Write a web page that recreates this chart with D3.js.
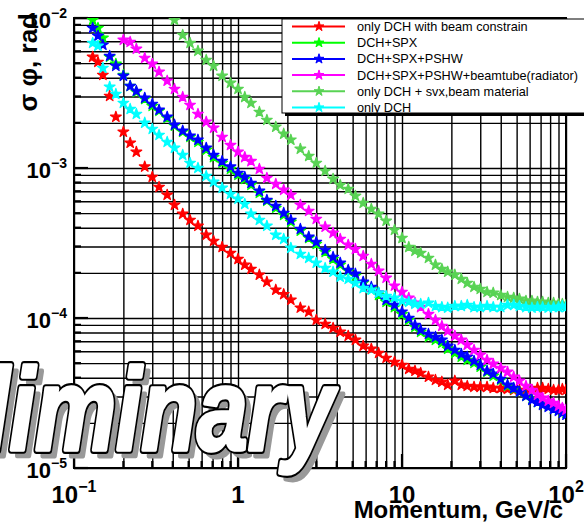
<!DOCTYPE html>
<html>
<head>
<meta charset="utf-8">
<script src="https://cdn.jsdelivr.net/npm/d3@7"></script>
<style>
  body { margin: 0; background: #fff; }
  svg { display: block; font-family: "Liberation Sans", Arial, sans-serif; }
</style>
</head>
<body>
<div id="chart"></div>
<script>
// momentum points (GeV/c), shared by all series
var momentum = [0.13,0.14,0.15,0.165,0.18,0.2,0.22,0.24,0.27,0.3,
  0.33,0.37,0.41,0.46,0.51,0.57,0.64,0.71,0.8,0.9,
  1.0,1.1,1.2,1.35,1.5,1.7,1.9,2.1,2.4,2.7,
  3.0,3.4,3.8,4.2,4.7,5.2,5.8,6.5,7.2,8,
  9,10,11,12,13,14.5,16,17.5,19,21,
  23,25,27.5,30,33,36,40,44,48,52,
  57,62,67,72,78,84,90,95,100];

// sigma phi (rad) for each configuration
var sigDchBeam = [5.5e-3,5.09e-3,4.17e-3,3.02e-3,2.19e-3,1.74e-3,1.47e-3,1.28e-3,1.02e-3,8.71e-4,
  7.47e-4,6.61e-4,5.67e-4,4.94e-4,4.50e-4,4.11e-4,3.58e-4,3.26e-4,2.97e-4,2.71e-4,
  2.47e-4,2.26e-4,2.12e-4,1.94e-4,1.74e-4,1.54e-4,1.44e-4,1.32e-4,1.17e-4,1.10e-4,
  9.70e-5,9.12e-5,8.58e-5,8.07e-5,7.59e-5,7.14e-5,6.51e-5,6.22e-5,5.84e-5,5.41e-5,
  5.09e-5,4.86e-5,4.57e-5,4.44e-5,4.30e-5,4.05e-5,3.86e-5,3.75e-5,3.58e-5,3.81e-5,
  3.58e-5,3.52e-5,3.47e-5,3.47e-5,3.47e-5,3.41e-5,3.41e-5,3.36e-5,3.31e-5,3.31e-5,
  3.26e-5,3.31e-5,3.41e-5,3.41e-5,3.36e-5,3.31e-5,3.31e-5,3.36e-5,3.31e-5];

var sigDchSpx = [9.70e-3,8.58e-3,7.36e-3,5.50e-3,4.94e-3,4.17e-3,3.52e-3,3.21e-3,2.88e-3,2.59e-3,
  2.40e-3,2.15e-3,1.91e-3,1.74e-3,1.61e-3,1.49e-3,1.32e-3,1.18e-3,1.08e-3,9.85e-4,
  8.98e-4,8.45e-4,7.70e-4,6.81e-4,6.03e-4,5.41e-4,4.86e-4,4.37e-4,3.81e-4,3.41e-4,
  3.11e-4,2.75e-4,2.47e-4,2.26e-4,2.06e-4,1.91e-4,1.71e-4,1.56e-4,1.42e-4,1.28e-4,
  1.18e-4,1.06e-4,9.70e-5,8.71e-5,8.07e-5,7.47e-5,7.14e-5,6.81e-5,6.22e-5,5.84e-5,
  5.50e-5,5.25e-5,5.01e-5,4.72e-5,4.37e-5,4.11e-5,3.86e-5,3.52e-5,3.36e-5,3.21e-5,
  3.02e-5,2.88e-5,2.75e-5,2.67e-5,2.59e-5,2.51e-5,2.44e-5,2.36e-5,2.33e-5];

var sigDchSpxPshw = [8.58e-3,7.59e-3,6.61e-3,5.58e-3,4.79e-3,4.11e-3,3.52e-3,3.26e-3,2.93e-3,2.67e-3,
  2.44e-3,2.19e-3,1.94e-3,1.77e-3,1.64e-3,1.54e-3,1.36e-3,1.22e-3,1.11e-3,1.02e-3,
  9.26e-4,8.71e-4,7.94e-4,7.03e-4,6.12e-4,5.58e-4,5.01e-4,4.50e-4,3.92e-4,3.47e-4,
  3.21e-4,2.84e-4,2.55e-4,2.33e-4,2.09e-4,1.97e-4,1.74e-4,1.61e-4,1.47e-4,1.32e-4,
  1.22e-4,1.10e-4,1.00e-4,8.98e-5,8.32e-5,7.82e-5,7.47e-5,7.14e-5,6.51e-5,6.12e-5,
  5.75e-5,5.50e-5,5.17e-5,4.86e-5,4.44e-5,4.24e-5,3.92e-5,3.58e-5,3.41e-5,3.21e-5,
  3.02e-5,2.84e-5,2.75e-5,2.63e-5,2.55e-5,2.47e-5,2.40e-5,2.33e-5,2.26e-5];

var sigBeamtube = [null,null,null,null,null,7.14e-3,6.92e-3,6.22e-3,5.41e-3,4.94e-3,
  4.37e-3,3.81e-3,3.36e-3,2.97e-3,2.63e-3,2.29e-3,2.03e-3,1.85e-3,1.61e-3,1.42e-3,
  1.28e-3,1.18e-3,1.11e-3,9.85e-4,8.58e-4,7.82e-4,7.14e-4,6.61e-4,5.67e-4,5.17e-4,
  4.57e-4,4.05e-4,3.69e-4,3.36e-4,3.07e-4,2.88e-4,2.59e-4,2.29e-4,2.06e-4,1.85e-4,
  1.64e-4,1.49e-4,1.36e-4,1.26e-4,1.18e-4,1.06e-4,9.70e-5,8.84e-5,8.19e-5,7.59e-5,
  7.14e-5,6.61e-5,6.12e-5,5.67e-5,5.25e-5,4.94e-5,4.64e-5,4.37e-5,4.05e-5,3.81e-5,
  3.52e-5,3.31e-5,3.07e-5,2.93e-5,2.80e-5,2.71e-5,2.59e-5,2.51e-5,2.44e-5];

var sigSvx = [null,null,null,null,null,null,null,null,null,null,
  null,null,9.70e-3,7.70e-3,6.81e-3,6.03e-3,5.25e-3,4.79e-3,4.11e-3,3.69e-3,
  3.36e-3,2.97e-3,2.71e-3,2.36e-3,2.09e-3,1.88e-3,1.69e-3,1.54e-3,1.34e-3,1.20e-3,
  1.08e-3,9.55e-4,8.45e-4,7.70e-4,7.24e-4,6.51e-4,5.84e-4,5.33e-4,4.94e-4,4.44e-4,
  3.86e-4,3.41e-4,2.97e-4,2.80e-4,2.71e-4,2.51e-4,2.26e-4,2.12e-4,2.03e-4,1.94e-4,
  1.82e-4,1.71e-4,1.61e-4,1.56e-4,1.49e-4,1.47e-4,1.42e-4,1.38e-4,1.36e-4,1.34e-4,
  1.30e-4,1.30e-4,1.28e-4,1.28e-4,1.26e-4,1.26e-4,1.24e-4,1.24e-4,1.22e-4];

var sigDch = [6.81e-3,6.51e-3,4.64e-3,3.47e-3,3.11e-3,2.71e-3,2.47e-3,2.29e-3,2.00e-3,1.82e-3,
  1.66e-3,1.49e-3,1.36e-3,1.22e-3,1.08e-3,1.00e-3,8.84e-4,8.07e-4,7.36e-4,6.71e-4,
  6.22e-4,5.75e-4,4.94e-4,4.50e-4,4.11e-4,3.58e-4,3.36e-4,2.93e-4,2.67e-4,2.51e-4,
  2.33e-4,2.15e-4,2.03e-4,1.88e-4,1.82e-4,1.71e-4,1.58e-4,1.54e-4,1.47e-4,1.40e-4,
  1.36e-4,1.30e-4,1.28e-4,1.24e-4,1.24e-4,1.26e-4,1.20e-4,1.18e-4,1.17e-4,1.20e-4,
  1.20e-4,1.22e-4,1.18e-4,1.18e-4,1.20e-4,1.18e-4,1.18e-4,1.22e-4,1.22e-4,1.20e-4,
  1.18e-4,1.17e-4,1.18e-4,1.18e-4,1.17e-4,1.18e-4,1.18e-4,1.20e-4,1.18e-4];

var seriesNames = ["only DCH with beam constrain", "DCH+SPX", "DCH+SPX+PSHW",
  "DCH+SPX+PSHW+beamtube(radiator)", "only DCH + svx,beam material", "only DCH"];
var seriesValues = [sigDchBeam, sigDchSpx, sigDchSpxPshw, sigBeamtube, sigSvx, sigDch];
var seriesColors = ["#ff0000", "#00ff00", "#0000ff", "#ff00ff", "#59d354", "#00ffff"];

var xMajor = [0.1, 1, 10, 100];
var xMajorExp = ["\u22121", "", "", "2"];
var yMajor = [1e-5, 1e-4, 1e-3, 1e-2];
var yMajorExp = ["\u22125", "\u22124", "\u22123", "\u22122"];

var W = 584, H = 527;
var margin = {top: 18, right: 18, bottom: 59, left: 74};
var width = W - margin.left - margin.right,
    height = H - margin.top - margin.bottom;

var svg = d3.select("#chart").append("svg")
    .attr("width", W)
    .attr("height", H);

var x = d3.scaleLog().domain([0.1, 100]).range([0, width]);
var y = d3.scaleLog().domain([1e-5, 1e-2]).range([height, 0]);

var g = svg.append("g")
    .attr("transform", `translate(${margin.left},${margin.top})`);

g.append("clipPath").attr("id", "plotclip")
  .append("rect").attr("width", width).attr("height", height);

// grid
g.append("g")
    .attr("transform", `translate(0,${height})`)
    .call(d3.axisBottom(x).tickSize(-height).tickFormat(""))
    .call(a => a.select(".domain").remove())
    .selectAll("line").attr("stroke", "#000").attr("stroke-width", 1.4);

g.append("g")
    .call(d3.axisLeft(y).tickSize(-width).tickFormat(""))
    .call(a => a.select(".domain").remove())
    .selectAll("line").attr("stroke", "#000").attr("stroke-width", 1.4);

// inward ticks on left and bottom
function isMajor(v) { return Math.abs(Math.log10(v) - Math.round(Math.log10(v))) < 1e-6; }

g.append("g").selectAll("line")
  .data(y.ticks())
  .join("line")
    .attr("x1", 0).attr("x2", d => isMajor(d) ? 14 : 7)
    .attr("y1", d => y(d)).attr("y2", d => y(d))
    .attr("stroke", "#000").attr("stroke-width", 2.2);

g.append("g").selectAll("line")
  .data(x.ticks())
  .join("line")
    .attr("y1", height).attr("y2", d => height - (isMajor(d) ? 14 : 7))
    .attr("x1", d => x(d)).attr("x2", d => x(d))
    .attr("stroke", "#000").attr("stroke-width", 2.2);

// frame
g.append("rect")
    .attr("width", width).attr("height", height)
    .attr("fill", "none").attr("stroke", "#000").attr("stroke-width", 2);

// data markers
var star = d3.symbol().type(d3.symbolStar).size(36);
var marks = g.append("g").attr("clip-path", "url(#plotclip)");
seriesValues.forEach(function(vals, i) {
  var pts = momentum.map((p, j) => [p, vals[j]]).filter(d => d[1] != null);
  marks.append("g").selectAll("path")
    .data(pts)
    .join("path")
      .attr("d", star)
      .attr("transform", d => `translate(${x(d[0])},${y(d[1])})`)
      .attr("fill", seriesColors[i])
      .attr("stroke", seriesColors[i])
      .attr("stroke-width", 1.2)
      .attr("stroke-linejoin", "round");
});

// y tick labels
yMajor.forEach(function(v, i) {
  var t = svg.append("text")
      .attr("x", margin.left - 7)
      .attr("y", margin.top + y(v) + 10)
      .attr("text-anchor", "end")
      .attr("font-weight", "bold")
      .attr("font-size", 22);
  t.append("tspan").text("10");
  t.append("tspan").attr("font-size", 14).attr("dy", -10).text(yMajorExp[i]);
});

// x tick labels
xMajor.forEach(function(v, i) {
  var t = svg.append("text")
      .attr("x", margin.left + x(v))
      .attr("y", 503)
      .attr("text-anchor", "middle")
      .attr("font-weight", "bold")
      .attr("font-size", 24);
  if (v === 1) { t.text("1"); return; }
  t.append("tspan").text("10");
  if (xMajorExp[i]) {
    t.append("tspan").attr("font-size", 16).attr("dy", -11).text(xMajorExp[i]);
  }
});

// axis titles
svg.append("text")
    .attr("x", 563).attr("y", 518)
    .attr("text-anchor", "end")
    .attr("font-weight", "bold")
    .attr("font-size", 24)
    .text("Momentum, GeV/c");

svg.append("text")
    .attr("transform", "translate(37,13) rotate(-90)")
    .attr("text-anchor", "end")
    .attr("font-weight", "bold")
    .attr("font-size", 26)
    .text("\u03c3 \u03c6, rad");

// legend
var leg = svg.append("g").attr("transform", "translate(282,19)");
leg.append("rect").attr("x", 3).attr("y", 3).attr("width", 330).attr("height", 94).attr("fill", "#000");
leg.append("rect").attr("width", 330).attr("height", 94)
    .attr("fill", "#fff").attr("stroke", "#000").attr("stroke-width", 1);
seriesNames.forEach(function(name, i) {
  var ly = 7.5 + i * 16.2;
  leg.append("line")
      .attr("x1", 10).attr("x2", 63).attr("y1", ly).attr("y2", ly)
      .attr("stroke", seriesColors[i]).attr("stroke-width", 2);
  leg.append("path")
      .attr("d", d3.symbol().type(d3.symbolStar).size(30))
      .attr("transform", `translate(37,${ly})`)
      .attr("fill", seriesColors[i])
      .attr("stroke", seriesColors[i]);
  leg.append("text")
      .attr("x", 75).attr("y", ly + 4.5)
      .attr("font-size", 12.7)
      .text(name);
});

// watermark: grey shadow, black outline, white body
var wm = svg.append("g").attr("transform", "translate(334,450) scale(0.95,1.22)");
function wmText(dx, dy, fill, stroke, sw) {
  wm.append("text")
      .attr("x", dx).attr("y", dy)
      .attr("text-anchor", "end")
      .attr("font-weight", "bold").attr("font-style", "italic")
      .attr("font-size", 96)
      .attr("fill", fill).attr("stroke", stroke).attr("stroke-width", sw)
      .attr("stroke-linejoin", "round")
      .text("Preliminary");
}
wmText(6, 5, "#999", "#999", 4);
wmText(0, 0, "#000", "#000", 6.5);
wmText(0, 0, "#fff", "#fff", 3);
</script>
</body>
</html>
